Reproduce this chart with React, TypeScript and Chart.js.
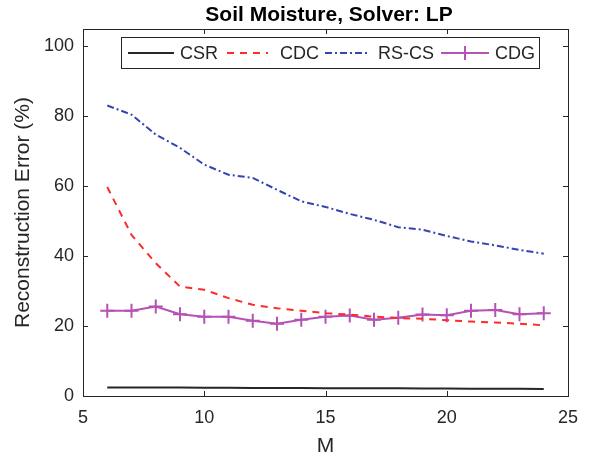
import React, { useEffect, useRef } from "react";
import { Chart, registerables } from "chart.js";

Chart.register(...registerables);

const M = [6, 7, 8, 9, 10, 11, 12, 13, 14, 15, 16, 17, 18, 19, 20, 21, 22, 23, 24];
const CSR = [2.4, 2.4, 2.4, 2.4, 2.35, 2.35, 2.3, 2.3, 2.3, 2.25, 2.25, 2.2, 2.2, 2.15, 2.15, 2.1, 2.1, 2.05, 2.0];
const CDC = [59.8, 46.1, 38.0, 31.3, 30.4, 28.0, 26.1, 25.1, 24.4, 23.7, 23.3, 22.7, 22.3, 22.1, 21.7, 21.3, 21.0, 20.7, 20.2];
const RSCS = [83.1, 80.5, 74.8, 71.0, 66.2, 63.3, 62.4, 59.0, 55.7, 54.1, 52.1, 50.4, 48.3, 47.6, 45.8, 44.2, 43.1, 41.8, 40.7];
const CDG = [24.4, 24.4, 25.6, 23.4, 22.7, 22.7, 21.5, 20.7, 21.8, 22.7, 23.0, 21.8, 22.4, 23.3, 23.1, 24.4, 24.6, 23.4, 23.7];
const X_TICKS = [5, 10, 15, 20, 25];
const Y_TICKS = [0, 20, 40, 60, 80, 100];
const TITLE = "Soil Moisture, Solver: LP";

const FONT = "'Liberation Sans', Arial, Helvetica, sans-serif";
const TXT = "#262626";

const pts = (ys: number[]) => M.map((x, i) => ({ x, y: ys[i] }));

const boxPlugin = {
  id: "matlabBox",
  afterDraw(chart: any) {
    const { ctx, chartArea: a, scales } = chart;
    ctx.save();
    ctx.strokeStyle = TXT;
    ctx.lineWidth = 1;
    ctx.strokeRect(a.left + 0.5, a.top + 0.5, a.right - a.left, a.bottom - a.top);
    const L = 5;
    ctx.beginPath();
    X_TICKS.forEach((v) => {
      const px = Math.round(scales.x.getPixelForValue(v)) + 0.5;
      ctx.moveTo(px, a.bottom);
      ctx.lineTo(px, a.bottom - L);
      ctx.moveTo(px, a.top);
      ctx.lineTo(px, a.top + L);
    });
    Y_TICKS.forEach((v) => {
      const py = Math.round(scales.y.getPixelForValue(v)) + 0.5;
      ctx.moveTo(a.left, py);
      ctx.lineTo(a.left + L, py);
      ctx.moveTo(a.right, py);
      ctx.lineTo(a.right - L, py);
    });
    ctx.stroke();

    // title
    ctx.fillStyle = "#000";
    ctx.font = `bold 21px ${FONT}`;
    ctx.textAlign = "center";
    ctx.textBaseline = "middle";
    ctx.fillText(TITLE, 329, 15);

    // legend
    const lx0 = 121, ly0 = 37, lx1 = 539, ly1 = 68;
    ctx.fillStyle = "#fff";
    ctx.fillRect(lx0, ly0, lx1 - lx0, ly1 - ly0);
    ctx.strokeStyle = TXT;
    ctx.strokeRect(lx0 + 0.5, ly0 + 0.5, lx1 - lx0, ly1 - ly0);
    const cy = 53;
    const items = [
      { ds: 0, x0: 128, x1: 174, tx: 180 },
      { ds: 1, x0: 227, x1: 268, tx: 280 },
      { ds: 2, x0: 325, x1: 369, tx: 378 },
      { ds: 3, x0: 441, x1: 489, tx: 495 },
    ];
    ctx.font = `18px ${FONT}`;
    ctx.textAlign = "left";
    items.forEach((it) => {
      const ds = chart.data.datasets[it.ds];
      ctx.save();
      ctx.strokeStyle = ds.borderColor;
      ctx.lineWidth = ds.borderWidth;
      ctx.setLineDash(ds.borderDash || []);
      ctx.beginPath();
      ctx.moveTo(it.x0, cy);
      ctx.lineTo(it.x1, cy);
      ctx.stroke();
      if (ds.pointStyle === "cross") {
        ctx.setLineDash([]);
        const mx = (it.x0 + it.x1) / 2;
        ctx.beginPath();
        ctx.moveTo(mx, cy - 7);
        ctx.lineTo(mx, cy + 7);
        ctx.stroke();
      }
      ctx.restore();
      ctx.fillStyle = TXT;
      ctx.fillText(ds.label, it.tx, cy + 1);
    });
    ctx.restore();
  },
};

export default function App() {
  const ref = useRef<HTMLCanvasElement>(null);
  useEffect(() => {
    const chart = new Chart(ref.current!, {
      type: "line",
      data: {
        datasets: [
          { label: "CSR", data: pts(CSR), borderColor: "#262626", borderWidth: 2, pointRadius: 0, fill: false },
          { label: "CDC", data: pts(CDC), borderColor: "#ff2a2a", borderWidth: 2, borderDash: [7, 6], pointRadius: 0, fill: false },
          { label: "RS-CS", data: pts(RSCS), borderColor: "#3346b0", borderWidth: 2, borderDash: [7, 3, 2, 3], pointRadius: 0, fill: false },
          {
            label: "CDG", data: pts(CDG), borderColor: "#b552b5", backgroundColor: "#b552b5", borderWidth: 2,
            pointStyle: "cross", pointRadius: 7, pointBorderWidth: 2, pointBorderColor: "#b552b5", fill: false,
          },
        ] as any,
      },
      options: {
        responsive: false,
        animation: false,
        layout: { padding: { top: 29, right: 26, left: 0, bottom: 0 } },
        plugins: { legend: { display: false }, title: { display: false }, tooltip: { enabled: false } },
        scales: {
          x: {
            type: "linear", min: 5, max: 25,
            grid: { display: false, drawTicks: false },
            border: { display: false },
            ticks: { stepSize: 5, padding: 11, color: TXT, font: { family: FONT, size: 18 } },
            afterBuildTicks: (s: any) => { s.ticks = X_TICKS.map((v) => ({ value: v })); },
            title: { display: true, text: "M", color: TXT, font: { family: FONT, size: 21 }, padding: { top: 0, bottom: 0 } },
            afterFit: (s: any) => { s.height = 63; },
          },
          y: {
            type: "linear", min: 0, max: 105,
            grid: { display: false, drawTicks: false },
            border: { display: false },
            ticks: { stepSize: 20, padding: 9, color: TXT, font: { family: FONT, size: 18 } },
            afterBuildTicks: (s: any) => { s.ticks = Y_TICKS.map((v) => ({ value: v })); },
            title: { display: true, text: "Reconstruction Error (%)", color: TXT, font: { family: FONT, size: 21 }, padding: { top: 11, bottom: 0 } },
            afterFit: (s: any) => { s.width = 83; },
          },
        } as any,
      },
      plugins: [boxPlugin],
    });
    return () => chart.destroy();
  }, []);
  return (
    <div style={{ position: "absolute", left: 0, top: 0, width: 594, height: 459, background: "#fff" }}>
      <canvas ref={ref} width={594} height={459} style={{ width: 594, height: 459 }} />
    </div>
  );
}
